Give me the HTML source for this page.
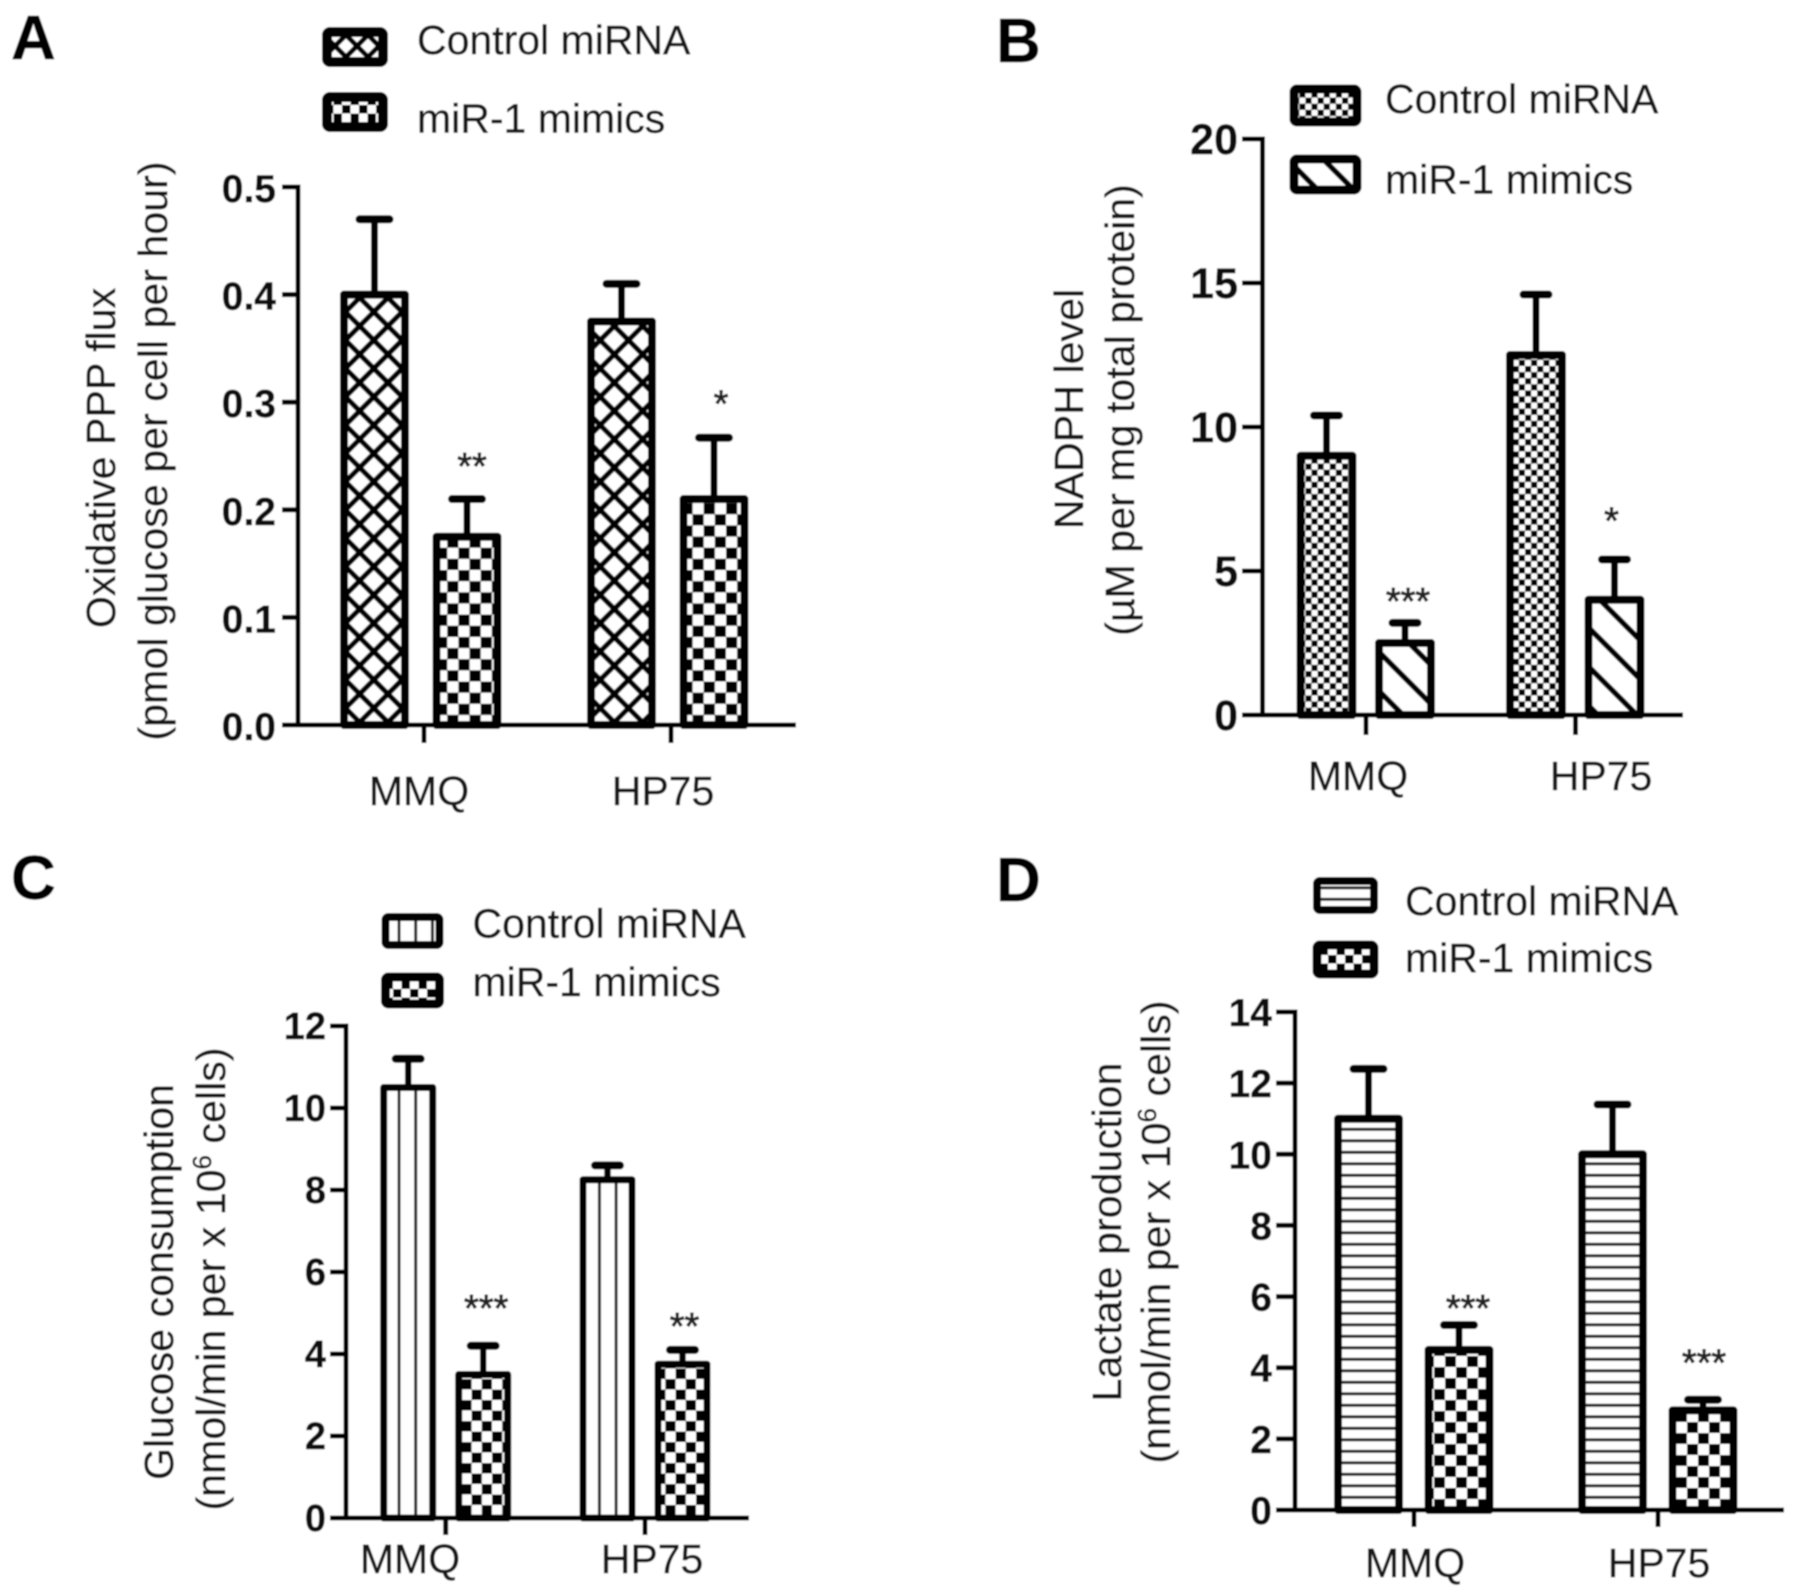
<!DOCTYPE html>
<html lang="en">
<head>
<meta charset="utf-8">
<title>miR-1 metabolism bar charts</title>
<style>
html,body{margin:0;padding:0;background:#fff;width:1795px;height:1586px;overflow:hidden}
svg{display:block}
text{font-family:"Liberation Sans",sans-serif;fill:#141414;stroke:#141414;stroke-width:0.4px}
.lbl{font-size:41px}
.ttl{font-size:41.2px}
.ttl1{font-size:41.2px}
.tick{font-weight:bold;fill:#0c0c0c;stroke:#0c0c0c;text-anchor:end}
.letter{font-size:62px;font-weight:bold;fill:#000;stroke:#000}
.star{font-size:38px;text-anchor:middle;fill:#222;stroke:#222;stroke-width:0.9px}
.cat{font-size:41px;text-anchor:middle}
</style>
</head>
<body>
<svg id="figure" xmlns="http://www.w3.org/2000/svg" width="1795" height="1586" viewBox="0 0 1795 1586">
<defs>
  <filter id="soft" x="0" y="0" width="100%" height="100%"><feGaussianBlur stdDeviation="0.7"/></filter>
  <pattern id="p-cross" patternUnits="userSpaceOnUse" width="28.3" height="28.3" patternTransform="translate(5.9 0.6)">
    <rect width="28.3" height="28.3" fill="#fff"/>
    <path d="M-2 2L2 -2M0 28.3L28.3 0M26.3 30.3L30.3 26.3M-2 26.3L2 30.3M0 0L28.3 28.3M26.3 -2L30.3 2" stroke="#000" stroke-width="5.2" fill="none"/>
  </pattern>
  <pattern id="p-cross-legend" patternUnits="userSpaceOnUse" width="22" height="22" patternTransform="translate(5 2)">
    <rect width="22" height="22" fill="#fff"/>
    <path d="M-2 2L2 -2M0 22L22 0M20 24L24 20M-2 20L2 24M0 0L22 22M20 -2L24 2" stroke="#000" stroke-width="5" fill="none"/>
  </pattern>
  <pattern id="p-check-a" patternUnits="userSpaceOnUse" width="22.3" height="22.3" patternTransform="translate(458.4 547.7)">
    <rect width="22.3" height="22.3" fill="#fff"/>
    <rect width="11.15" height="11.15" fill="#000"/>
    <rect x="11.15" y="11.15" width="11.15" height="11.15" fill="#000"/>
  </pattern>
  <pattern id="p-check-c" patternUnits="userSpaceOnUse" width="20.4" height="21" patternTransform="translate(2.4 3.5)">
    <rect width="20.4" height="21" fill="#fff"/>
    <rect width="10.2" height="10.5" fill="#000"/>
    <rect x="10.2" y="10.5" width="10.2" height="10.5" fill="#000"/>
  </pattern>
  <pattern id="p-check-d" patternUnits="userSpaceOnUse" width="22" height="22" patternTransform="translate(4 3)">
    <rect width="22" height="22" fill="#fff"/>
    <rect width="11" height="11" fill="#000"/>
    <rect x="11" y="11" width="11" height="11" fill="#000"/>
  </pattern>
  <pattern id="p-check-legend" patternUnits="userSpaceOnUse" width="17" height="17" patternTransform="translate(2 3)">
    <rect width="17" height="17" fill="#fff"/>
    <rect width="8.5" height="8.5" fill="#000"/>
    <rect x="8.5" y="8.5" width="8.5" height="8.5" fill="#000"/>
  </pattern>
  <pattern id="p-fine" patternUnits="userSpaceOnUse" width="12.2" height="12.2">
    <rect width="12.2" height="12.2" fill="#fff"/>
    <rect width="6.1" height="6.1" fill="#000"/>
    <rect x="6.1" y="6.1" width="6.1" height="6.1" fill="#000"/>
  </pattern>
  <pattern id="p-diag" patternUnits="userSpaceOnUse" width="39" height="39" patternTransform="translate(25 0)">
    <rect width="39" height="39" fill="#fff"/>
    <path d="M-3 -3L42 42M-42 -3L3 42M36 -3L81 42" stroke="#000" stroke-width="5.6" fill="none"/>
  </pattern>
  <pattern id="p-diag-legend" patternUnits="userSpaceOnUse" width="36" height="36" patternTransform="translate(12 0)">
    <rect width="36" height="36" fill="#fff"/>
    <path d="M-3 -3L39 39M-39 -3L3 39M33 -3L75 39" stroke="#000" stroke-width="5.6" fill="none"/>
  </pattern>
  <pattern id="p-vert" patternUnits="userSpaceOnUse" width="16.7" height="16" patternTransform="translate(13.4 0)">
    <rect width="16.7" height="16" fill="#fff"/>
    <rect x="0" y="0" width="3" height="16" fill="#222"/>
  </pattern>
  <pattern id="p-horz" patternUnits="userSpaceOnUse" width="16" height="11.5" patternTransform="translate(0 0.8)">
    <rect width="16" height="11.5" fill="#fff"/>
    <rect x="0" y="0" width="16" height="3" fill="#222"/>
  </pattern>
</defs>

<g id="root" filter="url(#soft)">
  <rect width="1795" height="1586" fill="#fff" stroke="none"/>

  <!-- Panel letters -->
  <text class="letter" x="11" y="59">A</text>
  <text class="letter" x="996" y="62">B</text>
  <text class="letter" x="11" y="899">C</text>
  <text class="letter" x="996" y="901">D</text>

  <!-- Legends -->
  <g>
    <rect x="327" y="32" width="56" height="30" rx="3" fill="url(#p-cross-legend)" stroke="#000" stroke-width="10"/>
    <text class="lbl" x="417" y="54">Control miRNA</text>
    <rect x="327" y="97" width="56" height="30" rx="3" fill="url(#p-check-legend)" stroke="#000" stroke-width="10"/>
    <text class="lbl" x="417" y="132.5">miR-1 mimics</text>
  </g>
  <g>
    <rect x="1294" y="89" width="63" height="33" rx="3" fill="url(#p-fine)" stroke="#000" stroke-width="9"/>
    <text class="lbl" x="1385" y="113">Control miRNA</text>
    <rect x="1294" y="159" width="63" height="31" rx="3" fill="url(#p-diag-legend)" stroke="#000" stroke-width="9"/>
    <text class="lbl" x="1385" y="193.5">miR-1 mimics</text>
  </g>
  <g>
    <rect x="385.5" y="917" width="54" height="28" rx="3" fill="url(#p-vert)" stroke="#000" stroke-width="8"/>
    <text class="lbl" x="472.5" y="937.5">Control miRNA</text>
    <rect x="385.5" y="977" width="54" height="27" rx="3" fill="url(#p-check-legend)" stroke="#000" stroke-width="9"/>
    <text class="lbl" x="472.5" y="996">miR-1 mimics</text>
  </g>
  <g>
    <rect x="1317" y="881" width="57" height="29" rx="3" fill="url(#p-horz)" stroke="#000" stroke-width="8"/>
    <text class="lbl" x="1405" y="915">Control miRNA</text>
    <rect x="1317" y="945" width="57" height="29" rx="3" fill="url(#p-check-legend)" stroke="#000" stroke-width="9"/>
    <text class="lbl" x="1405" y="972">miR-1 mimics</text>
  </g>

  <!-- Axis titles -->
  <text class="ttl1" text-anchor="middle" transform="translate(115 458) rotate(-90)">Oxidative PPP flux</text>
  <text class="ttl" text-anchor="middle" transform="translate(167 451) rotate(-90)">(pmol glucose per cell per hour)</text>
  <text class="ttl1" text-anchor="middle" transform="translate(1083 409) rotate(-90)">NADPH level</text>
  <text class="ttl" text-anchor="middle" transform="translate(1134 410) rotate(-90)">(µM per mg total protein)</text>
  <text class="ttl1" text-anchor="middle" transform="translate(173 1282) rotate(-90)">Glucose consumption</text>
  <text class="ttl" text-anchor="middle" transform="translate(225 1279) rotate(-90)">(nmol/min per x 10<tspan dy="-14" font-size="26">6</tspan><tspan dy="14"> cells)</tspan></text>
  <text class="ttl1" text-anchor="middle" transform="translate(1121 1232) rotate(-90)">Lactate production</text>
  <text class="ttl" text-anchor="middle" transform="translate(1170 1232) rotate(-90)">(nmol/min per x 10<tspan dy="-14" font-size="26">6</tspan><tspan dy="14"> cells)</tspan></text>

  <g id="marks"></g>
</g>
</svg>

<script>
// Shared categories
const categories = ['MMQ', 'HP75'];

// Panel A: Oxidative PPP flux
const panelATicks = ['0.0', '0.1', '0.2', '0.3', '0.4', '0.5'];
const panelAControl = [0.40, 0.375];
const panelAControlUpper = [0.47, 0.41];
const panelAMimics = [0.175, 0.21];
const panelAMimicsUpper = [0.21, 0.267];
const panelAStars = ['**', '*'];

// Panel B: NADPH level
const panelBTicks = ['0', '5', '10', '15', '20'];
const panelBControl = [9, 12.5];
const panelBControlUpper = [10.4, 14.6];
const panelBMimics = [2.5, 4];
const panelBMimicsUpper = [3.2, 5.4];
const panelBStars = ['***', '*'];

// Panel C: Glucose consumption
const panelCTicks = ['0', '2', '4', '6', '8', '10', '12'];
const panelCControl = [10.5, 8.25];
const panelCControlUpper = [11.2, 8.6];
const panelCMimics = [3.5, 3.75];
const panelCMimicsUpper = [4.2, 4.1];
const panelCStars = ['***', '**'];

// Panel D: Lactate production
const panelDTicks = ['0', '2', '4', '6', '8', '10', '12', '14'];
const panelDControl = [11, 10];
const panelDControlUpper = [12.4, 11.4];
const panelDMimics = [4.5, 2.8];
const panelDMimicsUpper = [5.2, 3.1];
const panelDStars = ['***', '***'];

const NS = 'http://www.w3.org/2000/svg';
const marks = document.getElementById('marks');

function make(tag, attrs, parent, txt) {
  const el = document.createElementNS(NS, tag);
  for (const k in attrs) el.setAttribute(k, attrs[k]);
  if (txt !== undefined) el.textContent = txt;
  parent.appendChild(el);
  return el;
}

function drawPanel(p) {
  const g = make('g', {}, marks);
  
  
  const max = parseFloat(p.ticks[p.ticks.length - 1]);
  const y = v => p.y0 + (p.yTop - p.y0) * v / max;
  const x = i => p.cx[i];

  // Bars and error bars
  [['control', p.control, p.controlUpper, p.fillC, p.offC],
   ['mimics', p.mimics, p.mimicsUpper, p.fillM, p.offM]].forEach(s => {
    s[1].forEach((v, i) => {
      const c = x(i) + s[4];
      const top = y(v);
      const up = y(s[2][i]);
      const err = make('line', {x1: c, x2: c, y1: top, y2: up, stroke: '#000', 'stroke-width': p.errW}, g);
      
      
      const cap = make('line', {x1: c - p.capW / 2, x2: c + p.capW / 2, y1: up, y2: up, stroke: '#000', 'stroke-width': 8, 'stroke-linecap': 'round'}, g);
      
      
      const bar = make('rect', {x: c - p.barW / 2, y: top, width: p.barW, height: p.y0 - top, fill: 'url(#' + s[3] + ')', stroke: '#000', 'stroke-width': p.barStroke, 'stroke-linejoin': 'round'}, g);
      
      
    });
  });

  // Axes
  const yAxis = make('line', {x1: p.axisX, x2: p.axisX, y1: p.yTop - 2.5, y2: p.y0 + 2.5, stroke: '#000', 'stroke-width': 5}, g);
  
  
  const xAxis = make('line', {x1: p.tickLeft, x2: p.xEnd, y1: p.y0, y2: p.y0, stroke: '#000', 'stroke-width': 5}, g);
  
  

  p.ticks.forEach(t => {
    const v = parseFloat(t);
    const tk = make('line', {x1: p.tickLeft, x2: p.axisX, y1: y(v), y2: y(v), stroke: '#000', 'stroke-width': 5}, g);
    
    
    const lb = make('text', {class: 'tick', x: p.labelRight, y: y(v) + p.labelDrop, 'font-size': p.tickFont}, g, t);
    
    
  });

  categories.forEach((c, i) => {
    const tk = make('line', {x1: x(i), x2: x(i), y1: p.y0, y2: p.tickBottom, stroke: '#000', 'stroke-width': 5}, g);
    
    
    const lb = make('text', {class: 'cat', x: p.catX[i], y: p.catY}, g, c);
    
    
    const st = make('text', {class: 'star', x: x(i) + p.offM + p.starShift[i], y: y(p.mimicsUpper[i]) - p.starGap[i]}, g, p.stars[i]);
    
    
  });
}

drawPanel({id: 'a', ticks: panelATicks, control: panelAControl, controlUpper: panelAControlUpper, mimics: panelAMimics, mimicsUpper: panelAMimicsUpper, stars: panelAStars,
  fillC: 'p-cross', fillM: 'p-check-a', y0: 725, yTop: 187, axisX: 298, tickLeft: 282, labelRight: 276, labelDrop: 15, tickFont: 39, xEnd: 796, tickBottom: 743, cx: [424, 671], offC: -49.5, offM: 43, barW: 61, barStroke: 8, capW: 30, errW: 7, catX: [419, 663], catY: 805, starShift: [5, 7], starGap: [20, 21]});
drawPanel({id: 'b', ticks: panelBTicks, control: panelBControl, controlUpper: panelBControlUpper, mimics: panelBMimics, mimicsUpper: panelBMimicsUpper, stars: panelBStars,
  fillC: 'p-fine', fillM: 'p-diag', y0: 715, yTop: 139, axisX: 1262.5, tickLeft: 1242, labelRight: 1238, labelDrop: 15, tickFont: 43, xEnd: 1683, tickBottom: 735, cx: [1366, 1575.5], offC: -39.5, offM: 39, barW: 52, barStroke: 8, capW: 25, errW: 7, catX: [1358, 1601], catY: 790, starShift: [3, -3], starGap: [9, 26]});
drawPanel({id: 'c', ticks: panelCTicks, control: panelCControl, controlUpper: panelCControlUpper, mimics: panelCMimics, mimicsUpper: panelCMimicsUpper, stars: panelCStars,
  fillC: 'p-vert', fillM: 'p-check-c', y0: 1518, yTop: 1026, axisX: 346, tickLeft: 330, labelRight: 326, labelDrop: 13, tickFont: 38, xEnd: 749, tickBottom: 1535, cx: [445.7, 645], offC: -37.5, offM: 37.5, barW: 49, barStroke: 7, capW: 25, errW: 6.5, catX: [410, 652], catY: 1573, starShift: [3, 2], starGap: [25, 11]});
drawPanel({id: 'd', ticks: panelDTicks, control: panelDControl, controlUpper: panelDControlUpper, mimics: panelDMimics, mimicsUpper: panelDMimicsUpper, stars: panelDStars,
  fillC: 'p-horz', fillM: 'p-check-d', y0: 1510, yTop: 1012, axisX: 1295, tickLeft: 1276, labelRight: 1272, labelDrop: 14, tickFont: 39, xEnd: 1784, tickBottom: 1527, cx: [1414, 1658], offC: -45.5, offM: 45, barW: 61, barStroke: 8, capW: 30, errW: 7, catX: [1415, 1659], catY: 1577, starShift: [9, 1], starGap: [4, 24]});
</script>
</body>
</html>
